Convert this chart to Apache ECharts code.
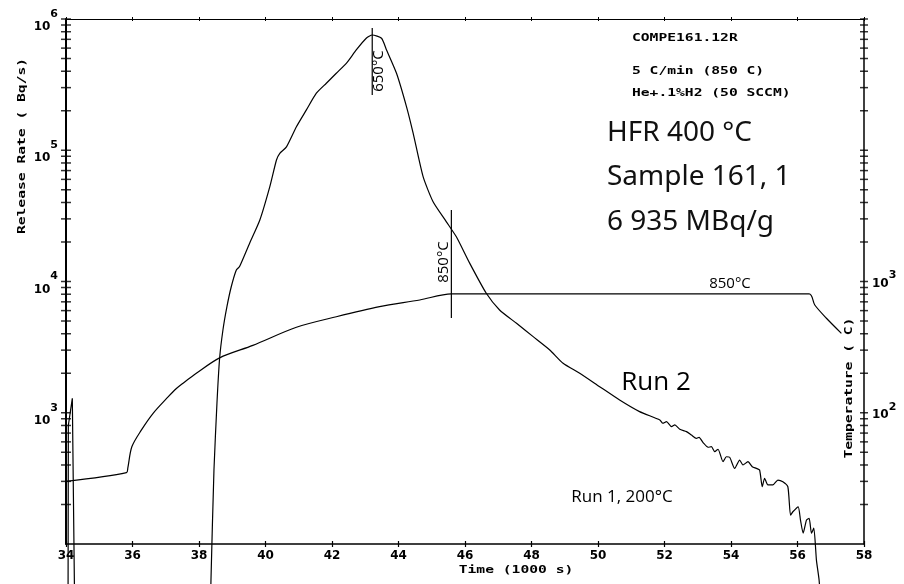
<!DOCTYPE html>
<html>
<head>
<meta charset="utf-8">
<script src="https://cdn.jsdelivr.net/npm/echarts@6/dist/echarts.min.js"></script>
<style>
  html, body { margin: 0; padding: 0; background: #fff; }
  #chart { width: 904px; height: 584px; }
</style>
</head>
<body>
<div id="chart"></div>
<script>
// values (time in 1000 s, rate in Bq/s, temperature in C)
const run2Time = [38.33, 38.36, 38.45, 38.54, 38.62, 38.72, 38.84, 38.97, 39.12, 39.22, 39.52, 39.83,
  40.13, 40.33, 40.43, 40.63, 40.93, 41.23, 41.53, 41.83, 42.13, 42.43, 42.73, 43.03, 43.21, 43.49,
  43.64, 43.94, 44.24, 44.44, 44.74, 45.04, 45.44, 45.74, 46.14, 46.64, 47.04, 47.55, 48.05, 48.55,
  48.95, 49.45, 50.05, 50.65, 51.25, 51.86, 51.95, 52.06, 52.21, 52.31, 52.46, 52.66, 52.81, 52.96,
  53.04, 53.16, 53.31, 53.41, 53.51, 53.61, 53.76, 53.86, 53.96, 54.11, 54.26, 54.36, 54.51, 54.64,
  54.76, 54.86, 54.94, 55.01, 55.11, 55.26, 55.41, 55.56, 55.71, 55.79, 55.86, 56.02, 56.09, 56.17,
  56.27, 56.35, 56.42, 56.49, 56.57, 56.65, 56.78]
const run2Rate = [20, 53, 366, 1180, 2600, 4270, 6430, 9120, 12200, 13000, 19500, 29400,
  52800, 84300, 94800, 106000, 151000, 203000, 272000, 324000, 386000, 459000, 581000, 713000, 755000, 713000,
  581000, 386000, 215000, 135000, 62900, 40500, 28500, 21900, 13800, 8130, 6070, 4800, 3800, 3010,
  2380, 2000, 1580, 1250, 1020, 881, 832, 855, 783, 807, 748, 718, 676, 638,
  650, 592, 546, 551, 505, 527, 424, 462, 458, 377, 436, 400, 424, 388,
  377, 366, 273, 317, 282, 282, 307, 298, 273, 166, 176, 192, 152, 121,
  152, 157, 121, 132, 75, 53, 20]

const spikeTime = [34.06, 34.07, 34.19, 34.27]
const spikeRate = [20, 800, 1290, 20]

const tempTime = [34.0, 35.82, 35.86, 35.98, 36.27, 36.62, 37.07, 37.32, 37.52, 37.92, 38.62, 39.62,
  40.93, 42.13, 43.43, 44.64, 45.59, 56.35, 56.52, 56.87, 57.32]
const tempValue = [30, 35, 38, 55, 74, 99, 132, 153, 168, 200, 262, 326,
  448, 539, 643, 723, 805, 805, 662, 525, 403]

const peakMarkTime = [43.21, 43.21]
const peakMarkRate = [854000, 264000]
const holdMarkTime = [45.59, 45.59]
const holdMarkRate = [35000, 5270]

// log tick positions drawn on both vertical axes
const rateTicks = [200, 300, 400, 500, 600, 700, 800, 900,
  1000, 2000, 3000, 4000, 5000, 6000, 7000, 8000, 9000,
  10000, 20000, 30000, 40000, 50000, 60000, 70000, 80000, 90000,
  100000, 200000, 300000, 400000, 500000, 600000, 700000, 800000, 900000, 1000000]
const rateExponents = [3, 4, 5, 6]
const tempExponents = [2, 3]

const pairs = (xs, ys) => xs.map((x, i) => [x, ys[i]])

const plotFont = '"DejaVu Sans Mono", monospace'
const labelFont = '"DejaVu Sans", sans-serif'
const handFont = '"Open Sans", sans-serif'

const xBase = {
  type: 'value',
  min: 34,
  max: 58,
  interval: 2,
  splitLine: { show: false },
}

const expLabel = (exps, padLow, padHigh) => ({
  color: '#000',
  margin: 8,
  formatter: (v) => {
    const e = Math.round(Math.log10(v))
    return exps.includes(e) ? `{b|10}{e|${e}}` : ''
  },
  rich: {
    b: { fontFamily: labelFont, fontWeight: 'bold', fontSize: 12, color: '#000', padding: [padLow, 0, 0, 0] },
    e: { fontFamily: labelFont, fontWeight: 'bold', fontSize: 11, color: '#000', padding: [0, 0, padHigh, 0] },
  },
})

const lineSeries = (name, data, yAxisIndex, smooth) => ({
  name,
  type: 'line',
  yAxisIndex,
  data,
  smooth: smooth || false,
  symbol: 'none',
  showSymbol: false,
  clip: false,
  silent: true,
  lineStyle: { color: '#000', width: 1.2 },
})

const tickSeries = (x, size) => ({
  type: 'scatter',
  data: rateTicks.map((v) => [x, v]),
  symbol: 'rect',
  symbolSize: size,
  itemStyle: { color: '#000' },
  clip: false,
  silent: true,
  z: 5,
})

const plotText = (text, x, y, rotation, align) => ({
  type: 'text',
  x,
  y,
  rotation: rotation || 0,
  scaleX: 1.33,
  style: { text, font: `bold 11px ${plotFont}`, fill: '#000', align: align || 'left', verticalAlign: 'middle' },
})

const handText = (text, x, y, size, rotation) => ({
  type: 'text',
  x,
  y,
  rotation: rotation || 0,
  style: { text, font: `${size}px ${handFont}`, fill: '#000', align: 'center', verticalAlign: 'middle' },
})

const typedText = (text, x, y) => ({
  type: 'text',
  x,
  y,
  style: { text, font: `28px "Noto Sans", sans-serif`, fill: '#111', align: 'left', verticalAlign: 'middle' },
})

const option = {
  animation: false,
  backgroundColor: '#fff',
  grid: { left: 66, right: 40, top: 19, bottom: 40, containLabel: false, outerBoundsMode: 'none' },
  xAxis: [
    {
      ...xBase,
      position: 'bottom',
      axisLine: { show: true, onZero: false, lineStyle: { color: '#000', width: 1.5 } },
      axisTick: { show: true, inside: false, length: 3, lineStyle: { color: '#000', width: 1.2 } },
      axisLabel: { color: '#000', fontFamily: labelFont, fontWeight: 'bold', fontSize: 12, margin: 6 },
    },
    {
      ...xBase,
      position: 'bottom',
      axisLine: { show: false },
      axisTick: { show: true, inside: true, length: 3, lineStyle: { color: '#000', width: 1.2 } },
      axisLabel: { show: false },
    },
    {
      ...xBase,
      position: 'top',
      axisLine: { show: true, onZero: false, lineStyle: { color: '#000', width: 1 } },
      axisTick: { show: true, inside: false, length: 2, lineStyle: { color: '#000', width: 1 } },
      axisLabel: { show: false },
    },
    {
      ...xBase,
      position: 'top',
      axisLine: { show: false },
      axisTick: { show: true, inside: true, length: 2, lineStyle: { color: '#000', width: 1 } },
      axisLabel: { show: false },
    },
  ],
  yAxis: [
    {
      type: 'log',
      min: 100,
      max: 1000000,
      position: 'left',
      axisLine: { show: true, onZero: false, lineStyle: { color: '#000', width: 2 } },
      axisTick: { show: false },
      splitLine: { show: false },
      axisLabel: expLabel(rateExponents, 16, 10),
    },
    {
      type: 'log',
      min: 10,
      max: 100000,
      position: 'right',
      axisLine: { show: true, onZero: false, lineStyle: { color: '#000', width: 1.5 } },
      axisTick: { show: false },
      splitLine: { show: false },
      axisLabel: expLabel(tempExponents, 4, 12),
    },
  ],
  series: [
    lineSeries('Run 2', pairs(run2Time, run2Rate), 0, 0.2),
    lineSeries('Spike', pairs(spikeTime, spikeRate), 0),
    lineSeries('Temperature', pairs(tempTime, tempValue), 1, 0.3),
    lineSeries('650 mark', pairs(peakMarkTime, peakMarkRate), 0),
    lineSeries('850 mark', pairs(holdMarkTime, holdMarkRate), 0),
    tickSeries(34, [10, 1.5]),
    tickSeries(58, [8, 1.5]),
  ],
  graphic: [
    plotText('Release Rate ( Bq/s)', 22, 146, Math.PI / 2, 'center'),
    plotText('Temperature ( C)', 849, 388, Math.PI / 2, 'center'),
    plotText('Time (1000 s)', 516, 570, 0, 'center'),
    plotText('COMPE161.12R', 632, 38),
    plotText('5 C/min (850 C)', 632, 71),
    plotText('He+.1%H2 (50 SCCM)', 632, 93),
    typedText('HFR 400 °C', 607, 133),
    typedText('Sample 161, 1', 607, 177),
    typedText('6 935 MBq/g', 607, 222),
    handText('650°C', 379, 71, 15, Math.PI / 2),
    handText('850°C', 444, 262, 15, Math.PI / 2),
    handText('850°C', 730, 284, 15),
    handText('Run 2', 656, 383, 26),
    handText('Run 1, 200°C', 622, 497, 17),
  ],
}

const chart = echarts.init(document.getElementById('chart'))
chart.setOption(option)
</script>
</body>
</html>
